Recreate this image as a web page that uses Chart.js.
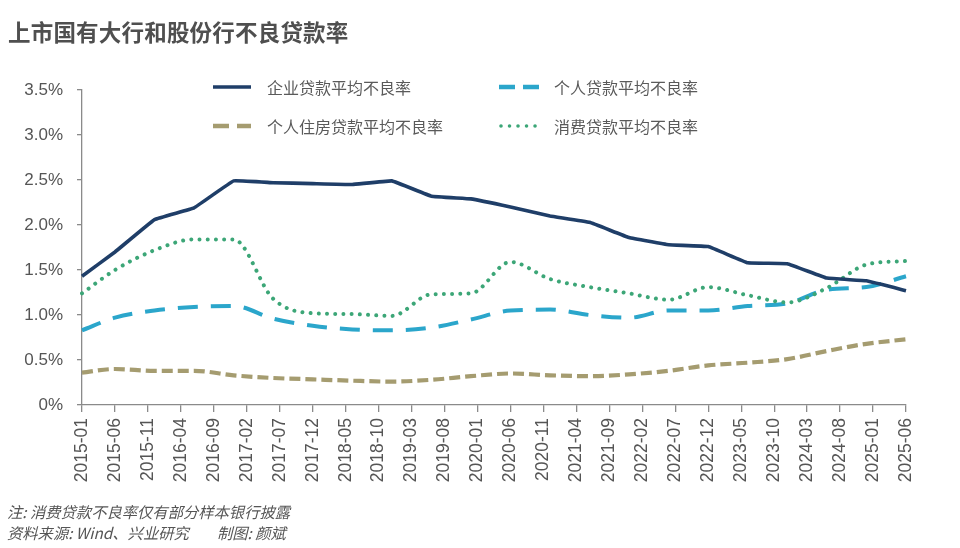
<!DOCTYPE html>
<html>
<head>
<meta charset="utf-8">
<script src="https://cdn.jsdelivr.net/npm/chart.js@4.4.1/dist/chart.umd.min.js"></script>
<style>
  html, body { margin: 0; padding: 0; background: #fff; }
  body { width: 960px; height: 548px; position: relative; overflow: hidden;
         font-family: "Liberation Sans", Arial, "Noto Sans CJK SC", sans-serif; }
  #wrap { position: absolute; left: 0; top: 0; width: 960px; height: 548px; }
  #title { position: absolute; left: 8px; top: 15px; font-size: 22.5px; font-weight: bold;
           color: #4f4f4f; font-family: "Noto Sans CJK SC", sans-serif; letter-spacing: 0.2px; }
  .leg { position: absolute; font-size: 16px; color: #5a5a5a; font-family: "Noto Sans CJK SC", sans-serif;
         line-height: 20px; white-space: nowrap; }
  .leg svg { position: absolute; left: 0; top: 0; }
  .leg span { position: absolute; top: 0; }
  .note { position: absolute; font-size: 15.3px; font-style: italic; color: #555;
          font-family: "Noto Sans CJK SC", sans-serif; white-space: pre; }
</style>
</head>
<body>
<div id="wrap"><canvas id="c" width="960" height="548"></canvas></div>
<div id="title">上市国有大行和股份行不良贷款率</div>
<div id="legend"></div>
<div class="note" style="left:7px; top:500px">注: 消费贷款不良率仅有部分样本银行披露</div>
<div class="note" style="left:7px; top:521px">资料来源: Wind、兴业研究</div>
<div class="note" style="left:217px; top:521px">制图: 颜斌</div>
<script>
// ---- data ----
const pointDates = ["2015-01","2015-06","2015-12","2016-06","2016-12","2017-06","2017-12","2018-06",
  "2018-12","2019-06","2019-12","2020-06","2020-12","2021-06","2021-12","2022-06","2022-12",
  "2023-06","2023-12","2024-06","2024-12","2025-06"];
const corporateNPL = [1.43,1.70,2.06,2.19,2.49,2.47,2.46,2.45,2.49,2.32,2.29,2.20,2.10,2.03,1.86,1.78,1.76,1.58,1.57,1.41,1.38,1.27];
const personalNPL  = [0.83,0.97,1.05,1.09,1.10,0.96,0.88,0.84,0.83,0.86,0.95,1.05,1.06,1.00,0.97,1.05,1.05,1.10,1.13,1.28,1.31,1.43];
const housingNPL   = [0.36,0.40,0.38,0.38,0.33,0.30,0.285,0.27,0.26,0.28,0.32,0.35,0.33,0.32,0.34,0.38,0.44,0.47,0.51,0.60,0.68,0.73];
const consumerNPL  = [1.24,1.50,1.72,1.84,1.84,1.18,1.02,1.01,0.99,1.23,1.24,1.59,1.40,1.31,1.24,1.17,1.31,1.22,1.14,1.30,1.56,1.60];
const seriesNames = ["企业贷款平均不良率","个人贷款平均不良率","个人住房贷款平均不良率","消费贷款平均不良率"];
const yTicks = [0,0.5,1.0,1.5,2.0,2.5,3.0,3.5];
const firstMonth = "2015-01", lastMonth = "2025-06", tickEvery = 5;

// monthly category axis
const months = [];
{
  let [y, m] = firstMonth.split("-").map(Number);
  const [ly, lm] = lastMonth.split("-").map(Number);
  while (y < ly || (y === ly && m <= lm)) {
    months.push(y + "-" + String(m).padStart(2, "0"));
    m++; if (m > 12) { m = 1; y++; }
  }
}
function toMonthly(vals) {
  const out = months.map(() => null);
  pointDates.forEach((d, i) => { out[months.indexOf(d)] = vals[i]; });
  return out;
}

const colors = { corp: "#1f3e68", pers: "#2ba6cb", hous: "#a59c70", cons: "#3ca677" };
const axisColor = "#8a8a8a";
const tickFont = { family: "'Liberation Sans', Arial, sans-serif", size: 17 };

const datasets = [
  { label: seriesNames[0], data: toMonthly(corporateNPL), borderColor: colors.corp, borderWidth: 3.6,
    tension: 0.06, order: 1 },
  { label: seriesNames[1], data: toMonthly(personalNPL), borderColor: colors.pers, borderWidth: 4,
    borderDash: [20, 13], cubicInterpolationMode: "monotone", order: 3 },
  { label: seriesNames[2], data: toMonthly(housingNPL), borderColor: colors.hous, borderWidth: 4.2,
    borderDash: [11, 5], cubicInterpolationMode: "monotone", order: 4 },
  { label: seriesNames[3], data: toMonthly(consumerNPL), borderColor: colors.cons, borderWidth: 4,
    borderDash: [0.01, 8.2], borderCapStyle: "round", cubicInterpolationMode: "monotone", order: 2 }
];
datasets.forEach(d => { d.pointRadius = 0; d.pointHoverRadius = 0; d.spanGaps = true; d.fill = false; });

new Chart(document.getElementById("c"), {
  type: "line",
  data: { labels: months, datasets },
  options: {
    responsive: false, animation: false,
    layout: { padding: { top: 90, right: 54, left: 0, bottom: 0 } },
    plugins: { legend: { display: false }, tooltip: { enabled: false } },
    scales: {
      x: {
        type: "category", offset: false,
        afterFit: s => { s.height = 143; },
        grid: { drawOnChartArea: false, drawTicks: true, tickLength: 7, color: axisColor, lineWidth: 1.3 },
        border: { display: true, color: axisColor, width: 1.3 },
        ticks: {
          autoSkip: false, maxRotation: 90, minRotation: 90, padding: 6,
          color: "#555", font: { family: tickFont.family, size: 17.5 },
          callback: function (v, i) { return i % tickEvery === 0 ? this.getLabelForValue(v) : null; }
        }
      },
      y: {
        min: 0, max: 3.5,
        afterFit: s => { s.width = 82; },
        afterBuildTicks: s => { s.ticks = yTicks.map(v => ({ value: v })); },
        grid: { drawOnChartArea: false, drawTicks: true, tickLength: 5, color: axisColor, lineWidth: 1.3 },
        border: { display: true, color: axisColor, width: 1.3 },
        ticks: {
          padding: 14, color: "#555", font: tickFont,
          callback: v => v === 0 ? "0%" : v.toFixed(1) + "%"
        }
      }
    }
  }
});

// legend (HTML text, drawn in two columns as in the reference)
const legendItems = [
  { name: seriesNames[0], x: 213, y: 77, color: colors.corp, dash: "", w: 3.6, cap: "butt" },
  { name: seriesNames[1], x: 499, y: 77, color: colors.pers, dash: "16 8", w: 4.5, cap: "butt" },
  { name: seriesNames[2], x: 213, y: 116, color: colors.hous, dash: "16 8", w: 4.5, cap: "butt" },
  { name: seriesNames[3], x: 499, y: 116, color: colors.cons, dash: "0.01 8.5", w: 3.6, cap: "round" }
];
const lg = document.getElementById("legend");
legendItems.forEach((it, k) => {
  const d = document.createElement("div");
  d.className = "leg";
  d.style.left = it.x + "px"; d.style.top = it.y + "px";
  const w = k % 2 === 0 ? 38 : 40;
  d.innerHTML = `<svg width="44" height="20"><line x1="${it.cap === 'round' ? 2 : 0}" y1="10" x2="${w}" y2="10" stroke="${it.color}" stroke-width="${it.w}" stroke-linecap="${it.cap}" ${it.dash ? `stroke-dasharray="${it.dash}"` : ""}/></svg><span style="left:${k % 2 === 0 ? 54 : 55}px">${it.name}</span>`;
  lg.appendChild(d);
});
</script>
</body>
</html>
